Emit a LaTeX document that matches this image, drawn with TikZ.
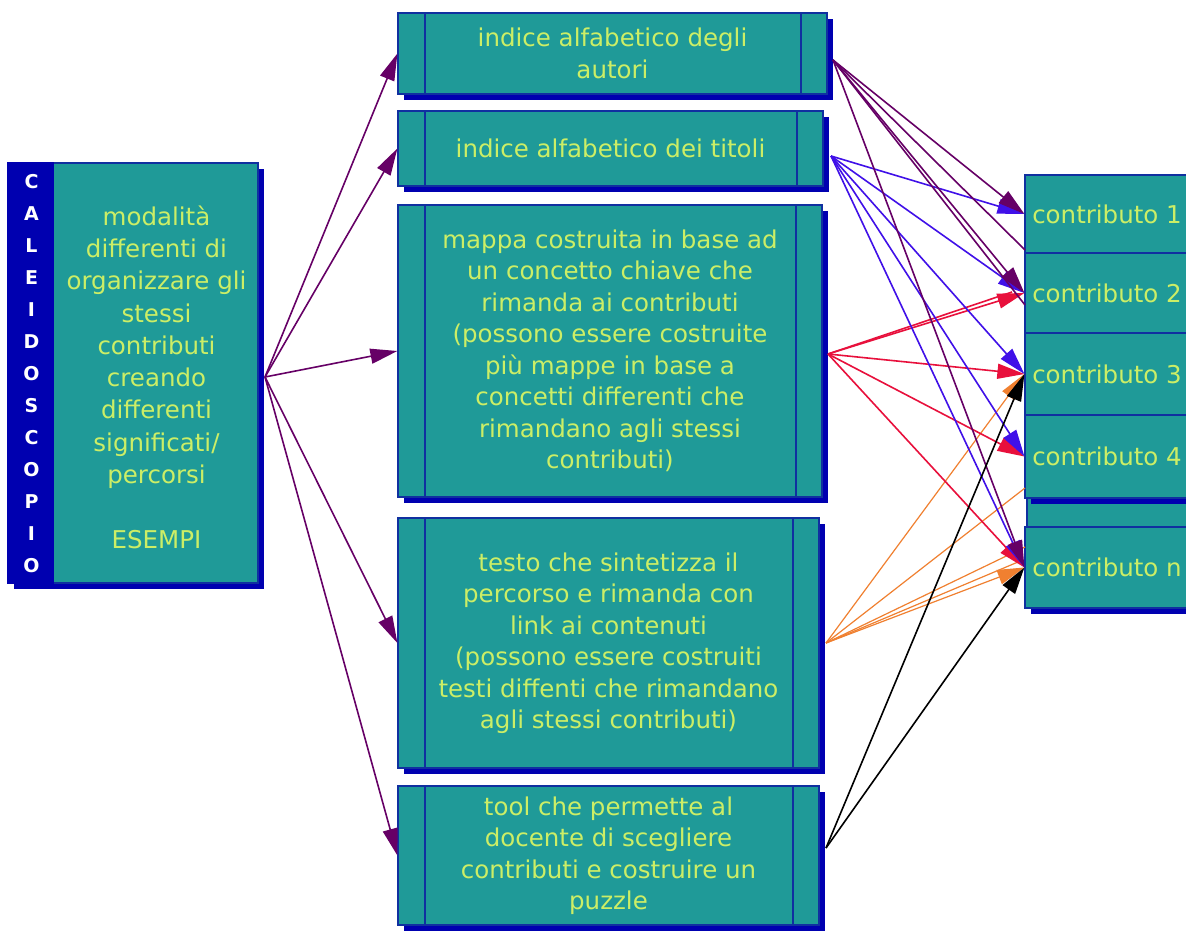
\documentclass[tikz,border=0pt]{standalone}
\usepackage{fontspec}
\setmainfont{DejaVu Sans}
\usetikzlibrary{arrows.meta,shadows}
\definecolor{tealbox}{HTML}{1F9A98}
\definecolor{txt}{HTML}{CCEE66}
\definecolor{dblue}{HTML}{0000B0}
\definecolor{bline}{HTML}{1030A0}
\definecolor{purp}{HTML}{660066}
\definecolor{vio}{HTML}{4010E8}
\definecolor{redar}{HTML}{E8103C}
\definecolor{orng}{HTML}{F08030}
\tikzset{
  box/.style={draw=bline, line width=1.2pt, fill=tealbox, text=txt,
    font=\fontsize{24.5}{31.5}\selectfont, align=center, inner sep=0pt},
  shad/.style={drop shadow={shadow xshift=6pt, shadow yshift=-6pt, fill=dblue, opacity=1}},
  midbox/.style={box, shad, path picture={
    \draw[bline, line width=1.2pt] ([xshift=27pt]path picture bounding box.north west) -- ([xshift=27pt]path picture bounding box.south west);
    \draw[bline, line width=1.2pt] ([xshift=-26pt]path picture bounding box.north east) -- ([xshift=-26pt]path picture bounding box.south east);}},
  cbox/.style={box, shad, minimum width=164pt},
  arr/.style={-{Triangle[length=27pt,width=15pt]}, line width=1.6pt},
  ln/.style={line width=1.6pt},
  thin/.style={line width=1.2pt},
}
\begin{document}
\begin{tikzpicture}[x=1pt,y=-1pt]
\useasboundingbox (0,0) rectangle (1186,931);
\fill[white] (0,0) rectangle (1186,931);

% left box
\node[box, shad, minimum width=250pt, minimum height=420pt] (lframe) at (133,373) {};
\fill[dblue] (lframe.north west) rectangle ([xshift=47pt]lframe.south west);
\node[text=txt, font=\fontsize{24.5}{32.3}\selectfont, align=center] (ltext) at (156.5,377)
  {modalità\\differenti di\\organizzare gli\\stessi\\contributi\\creando\\differenti\\significati/\\percorsi\\~\\ESEMPI};
\node[text=white, font=\fontsize{19}{32}\selectfont\bfseries, align=center] (cal) at (31.5,374)
  {C\\A\\L\\E\\I\\D\\O\\S\\C\\O\\P\\I\\O};

% middle boxes
\node[midbox, minimum width=429pt, minimum height=81pt] (b1) at (612.5,53.5)
  {indice alfabetico degli\\autori};
\node[midbox, minimum width=425pt, minimum height=75pt] (b2) at (610.5,148.5)
  {indice alfabetico dei titoli};
\node[midbox, minimum width=424pt, minimum height=292pt] (b3) at (610,351)
  {mappa costruita in base ad\\un concetto chiave che\\rimanda ai contributi\\(possono essere costruite\\più mappe in base a\\concetti differenti che\\rimandano agli stessi\\contributi)};
\node[midbox, minimum width=421pt, minimum height=250pt] (b4) at (608.5,643)
  {testo che sintetizza il\\percorso e rimanda con\\link ai contenuti\\(possono essere costruiti\\testi diffenti che rimandano\\agli stessi contributi)};
\node[midbox, minimum width=421pt, minimum height=139pt] (b5) at (608.5,855.5)
  {tool che permette al\\docente di scegliere\\contributi e costruire un\\puzzle};

% right boxes
\node[cbox, minimum height=78pt] (c1) at (1107,214) {contributo 1};
\node[cbox, minimum height=80pt] (c2) at (1107,293) {contributo 2};
\node[cbox, minimum height=82pt] (c3) at (1107,374) {contributo 3};
\node[box, minimum width=162pt, minimum height=90pt] (cback) at (1108,482) {};
\node[cbox, minimum height=83pt] (c4) at (1107,456.5) {contributo 4};
\node[cbox, minimum height=81pt] (cn) at (1107,567.5) {contributo n};

% sources and hidden ends
\coordinate (lsrc) at (265,377);
\coordinate (sA) at (833,60);
\coordinate (sT) at (831,156);
\coordinate (sM) at (828,354);
\coordinate (sX) at (826,643);
\coordinate (sL) at (826,848);
\coordinate (hA1) at (1025,250);
\coordinate (hA2) at (1025,305);
\coordinate (hM) at (1012,292);
\coordinate (hX1) at (1025,488);
\coordinate (hX2) at (1025,547);
\coordinate (hX3) at (1018,562);

% left arrows
\foreach \t in {b1,b2,b3,b4,b5} \draw[arr, purp] (lsrc) -- (\t.west);

% orange (testo)
\draw[thin, orng] (sX) -- (hX1);
\draw[thin, orng] (sX) -- (hX2);
\draw[thin, orng] (sX) -- (hX3);
\draw[arr, orng, thin] (sX) -- (c3.west);
\draw[arr, orng, thin] (sX) -- (cn.west);

% red (mappa)
\draw[ln, redar] (sM) -- (hM);
\foreach \t in {c2,c3,c4,cn} \draw[arr, redar] (sM) -- (\t.west);

% violet (titoli)
\foreach \t in {c1,c2,c3,c4,cn} \draw[arr, vio] (sT) -- (\t.west);

% purple (autori)
\draw[ln, purp] (sA) -- (hA1);
\draw[ln, purp] (sA) -- (hA2);
\foreach \t in {c1,c2,cn} \draw[arr, purp] (sA) -- (\t.west);

% black (tool)
\draw[arr, black] (sL) -- (c3.west);
\draw[arr, black] (sL) -- (cn.west);
\end{tikzpicture}
\end{document}
